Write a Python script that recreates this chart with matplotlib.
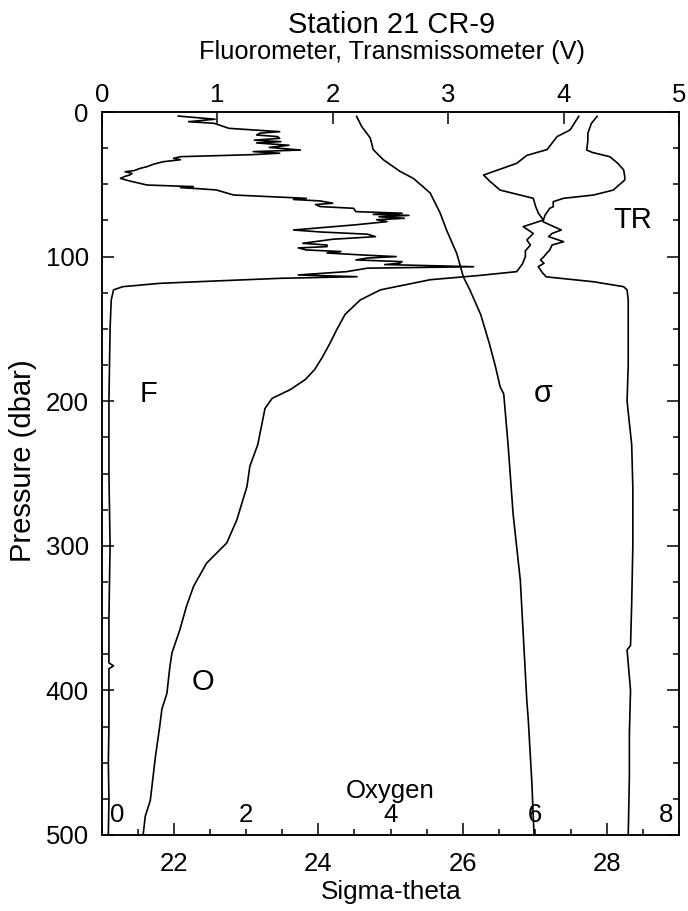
import matplotlib
matplotlib.use('Agg')
import matplotlib.pyplot as plt
from matplotlib.ticker import MultipleLocator, FixedLocator
import matplotlib.transforms as mtransforms

plt.rcParams['font.family'] = ['Liberation Sans', 'DejaVu Sans']

# ---------------- data ----------------
# Fluorometer (V), top axis
p_fluor = [2.8, 5.0, 6.7, 7.8, 11.3, 13.6, 14.6, 15.9, 17.0, 18.2,
           19.5, 20.5, 21.4, 23.0, 24.5, 26.3, 27.4, 28.5, 29.5, 30.9,
           32.0, 33.0, 34.4, 36.0, 37.8, 39.0, 40.5, 41.3, 42.5, 43.6,
           44.5, 45.9, 47.5, 50.5, 51.6, 52.3, 53.0, 53.9, 57.4, 59.7,
           60.5, 61.5, 63.1, 64.0, 65.4, 66.6, 68.9, 70.0, 70.8, 71.5,
           72.5, 73.5, 74.5, 75.8, 78.0, 81.6, 83.0, 84.5, 86.2, 88.0,
           90.8, 92.0, 93.1, 94.0, 95.4, 96.5, 97.5, 98.9, 100.0, 101.0,
           102.3, 103.5, 104.6, 105.5, 107.0, 108.0, 110.4, 112.7, 113.9, 115.0,
           117.3, 118.5, 120.8, 123.0, 130, 150, 175, 200, 225, 250,
           275, 300, 325, 350, 375, 381, 383, 385, 400, 425,
           450, 475, 500]
fluor = [0.66, 0.98, 0.75, 0.97, 1.10, 1.54, 1.37, 1.34, 1.52, 1.54,
         1.32, 1.55, 1.34, 1.62, 1.45, 1.72, 1.31, 1.54, 1.30, 0.68,
         0.62, 0.68, 0.53, 0.45, 0.39, 0.33, 0.28, 0.20, 0.26, 0.24,
         0.20, 0.16, 0.23, 0.39, 0.79, 0.68, 0.83, 0.99, 1.14, 1.77,
         1.66, 1.89, 2.00, 1.85, 1.89, 2.18, 2.20, 2.60, 2.35, 2.66,
         2.40, 2.62, 2.38, 2.47, 2.20, 1.66, 1.90, 2.30, 2.37, 2.00,
         1.74, 1.95, 1.95, 1.70, 1.77, 2.07, 1.95, 2.26, 2.55, 2.30,
         2.20, 2.60, 2.58, 2.45, 3.22, 2.30, 2.12, 1.70, 2.21, 1.55,
         0.85, 0.50, 0.18, 0.10, 0.08, 0.07, 0.065, 0.06, 0.06, 0.06,
         0.065, 0.07, 0.065, 0.06, 0.06, 0.06, 0.10, 0.06, 0.06, 0.06,
         0.055, 0.06, 0.055]

# Transmissometer (V), top axis
p_trans = [3, 8, 14.7, 20, 26.3, 28, 30.9, 35.5, 40, 44.7,
           47, 54, 57.4, 59.7, 62, 65.5, 66.6, 71.2, 75.8, 78,
           81.6, 84, 86.2, 89.7, 92, 95.4, 98, 100, 102.3, 104.6,
           107, 111.5, 114, 117.4, 120.8, 123, 130, 150, 175, 200,
           230, 260, 300, 340, 369, 372, 400, 430, 460, 500]
trans = [4.29, 4.24, 4.21, 4.21, 4.20, 4.25, 4.40, 4.47, 4.52, 4.53,
         4.53, 4.43, 4.26, 4.00, 3.91, 3.91, 3.88, 3.84, 3.82, 3.88,
         3.98, 3.90, 3.87, 4.00, 3.90, 3.88, 3.85, 3.83, 3.80, 3.83,
         3.78, 3.82, 3.85, 4.26, 4.52, 4.55, 4.56, 4.56, 4.56, 4.55,
         4.59, 4.60, 4.60, 4.59, 4.58, 4.55, 4.58, 4.57, 4.57, 4.56]

# Oxygen, inner axis 0-8
p_oxy = [3, 12.4, 17, 26, 30, 35.5, 43.6, 48, 54, 59.7,
         65, 70, 74.7, 79.3, 84, 88.5, 92, 96, 100, 105,
         110.4, 113, 116, 123, 130, 140, 150, 160, 170, 178,
         185, 192, 198, 205, 215, 230, 245, 259, 282, 298,
         305, 312, 328, 342, 358, 374, 384, 402, 413, 425,
         446, 476, 487, 500]
oxy = [6.61, 6.49, 6.31, 6.17, 5.89, 5.75, 5.29, 5.38, 5.52, 5.98,
       6.01, 6.05, 6.12, 5.84, 5.98, 5.89, 5.94, 5.87, 5.87, 5.83,
       5.75, 5.24, 4.55, 3.86, 3.58, 3.37, 3.26, 3.16, 3.05, 2.95,
       2.82, 2.61, 2.36, 2.26, 2.22, 2.16, 2.05, 2.01, 1.87, 1.73,
       1.59, 1.45, 1.27, 1.17, 1.08, 0.97, 0.94, 0.90, 0.83, 0.80,
       0.74, 0.67, 0.60, 0.57]

# Sigma-theta, bottom axis
p_sigma = [3, 10, 18, 26, 33, 41, 46, 56, 70, 82,
           98, 114, 123, 140, 160, 175, 190, 195, 230, 278,
           324, 370, 407, 420, 464, 500]
sigma = [24.53, 24.60, 24.72, 24.76, 24.90, 25.13, 25.32, 25.55, 25.69, 25.78,
         25.92, 26.01, 26.10, 26.25, 26.37, 26.45, 26.52, 26.57, 26.63, 26.70,
         26.80, 26.85, 26.89, 26.91, 26.96, 26.99]

sigma_ticks = [22, 24, 26, 28]
volt_ticks = [0, 1, 2, 3, 4, 5]
oxy_ticks = [0, 2, 4, 6, 8]
press_ticks = [0, 100, 200, 300, 400, 500]

# ---------------- figure ----------------
W, H = 688, 911
fig = plt.figure(figsize=(W / 100, H / 100), dpi=100)
L, R, T, B = 102, 679, 112, 835
ax = fig.add_axes([L / W, 1 - B / H, (R - L) / W, (B - T) / H])

axt = ax.twiny()
axo = ax.twiny()

lw = 1.2
ax.plot(sigma, p_sigma, color='k', lw=lw)
axt.plot(fluor, p_fluor, color='k', lw=lw)
axt.plot(trans, p_trans, color='k', lw=lw)
axo.plot(oxy, p_oxy, color='k', lw=lw)

ax.set_xlim(21, 29)
ax.set_ylim(500, 0)
axt.set_xlim(0, 5)
axo.set_xlim(0, 8)

TICK_FS = 18.5

# main axis ticks
ax.xaxis.set_major_locator(FixedLocator(sigma_ticks))
ax.xaxis.set_minor_locator(MultipleLocator(0.5))
ax.yaxis.set_major_locator(FixedLocator(press_ticks))
ax.yaxis.set_minor_locator(MultipleLocator(25))
ax.tick_params(which='both', direction='in', bottom=True, top=False,
               left=True, right=True, width=1.1, labelsize=TICK_FS)
ax.tick_params(which='major', length=8.3)
ax.tick_params(which='minor', length=4.3)
ax.tick_params(axis='x', which='major', pad=12)
ax.tick_params(axis='y', which='major', pad=9.5)

# top axis
axt.xaxis.set_major_locator(FixedLocator(volt_ticks))
axt.tick_params(axis='x', which='major', direction='in', length=8.3,
                width=1.1, labelsize=TICK_FS, pad=3.6)
axt.xaxis.set_minor_locator(FixedLocator([]))

# oxygen axis: hidden ticks/spines, inner labels
axo.set_xticks([])
for s in axo.spines.values():
    s.set_visible(False)

for s in ax.spines.values():
    s.set_linewidth(1.1)
for s in axt.spines.values():
    s.set_linewidth(1.1)

trans_oxy = mtransforms.blended_transform_factory(axo.transData, ax.transAxes)
for v in oxy_ticks:
    if v == oxy_ticks[0]:
        dx = 10.8
    elif v == oxy_ticks[-1]:
        dx = -9.5
    else:
        dx = 0
    axo.annotate(str(v), xy=(v, 0.018), xycoords=trans_oxy, xytext=(dx, 0),
                 textcoords='offset points', ha='center', va='baseline',
                 fontsize=TICK_FS)
axo.text(4, 0.0505, 'Oxygen', transform=trans_oxy, ha='center',
         va='baseline', fontsize=18.5)

# curve labels
axt.text(0.40, 200.5, 'F', ha='center', va='baseline', fontsize=21)
axt.text(4.60, 80.2, 'TR', ha='center', va='baseline', fontsize=21)
ax.text(22.4, 400, 'O', ha='center', va='baseline', fontsize=21)
ax.text(27.12, 200.5, 'σ', ha='center', va='baseline', fontsize=22)

# titles and axis labels
fig.text(391.7 / W, 1 - 33.3 / H, 'Station 21 CR-9', ha='center',
         va='baseline', fontsize=21)
fig.text(391.7 / W, 1 - 59 / H, 'Fluorometer, Transmissometer (V)',
         ha='center', va='baseline', fontsize=18.3)
fig.text(391.5 / W, 1 - 899 / H, 'Sigma-theta', ha='center',
         va='baseline', fontsize=18.8)
fig.text(23.5 / W, 1 - 461 / H, 'Pressure (dbar)', ha='center',
         va='center', rotation=90, fontsize=21)

fig.savefig('out.png', dpi=100)
